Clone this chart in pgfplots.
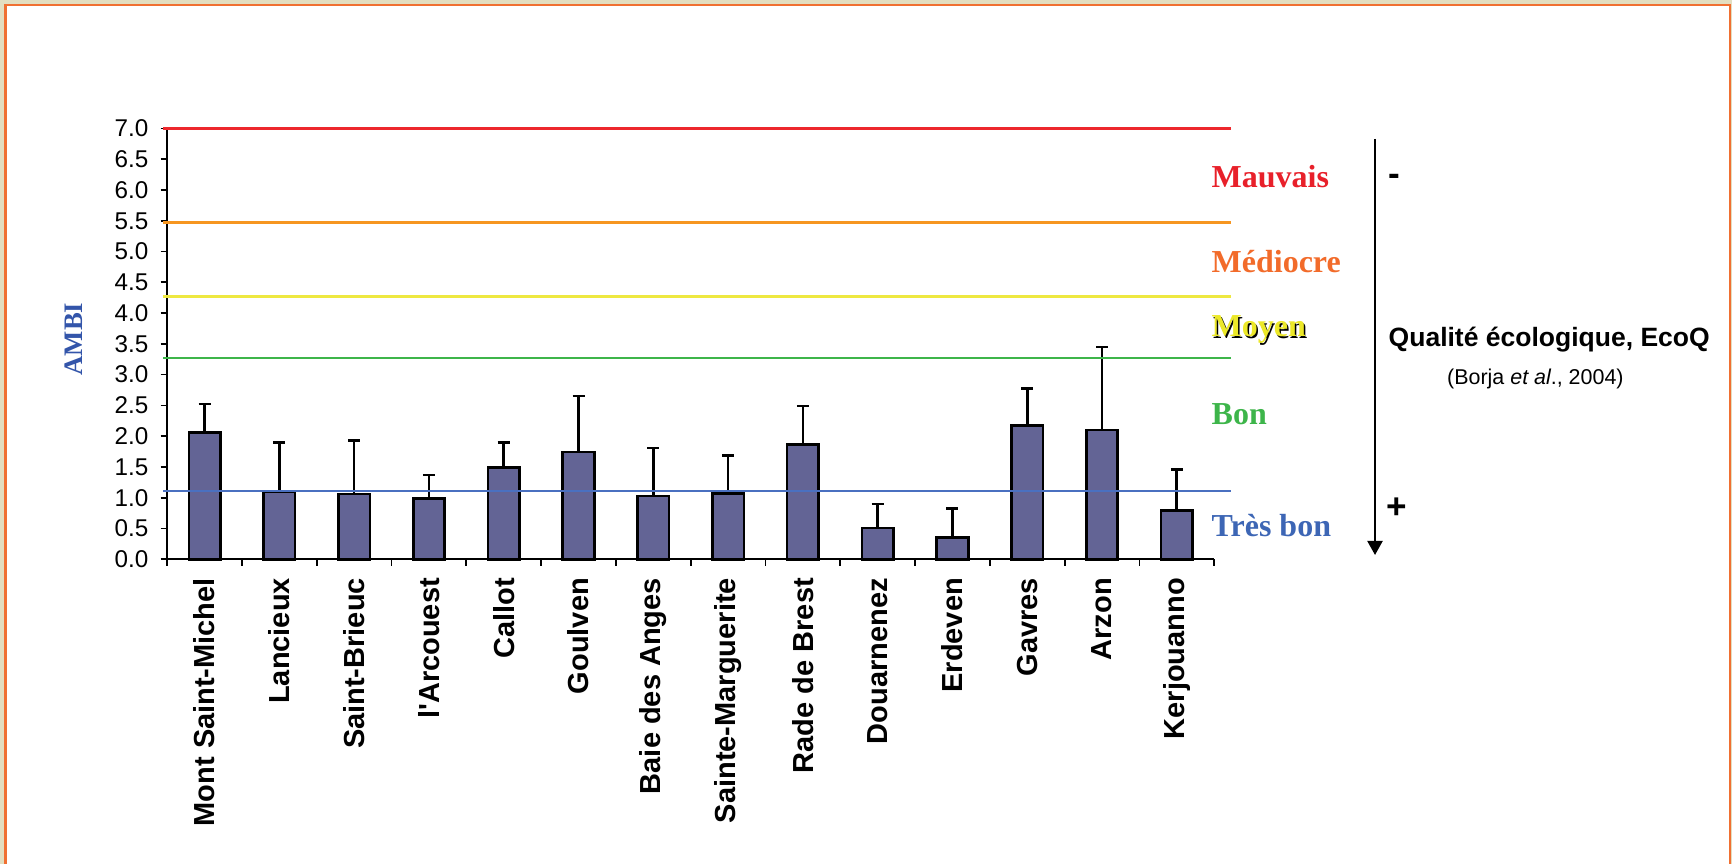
\documentclass[border=0pt]{standalone}
\usepackage{pgfplots}
\pgfplotsset{compat=1.18}
\usepackage{fontspec}
\setmainfont{Liberation Sans}
\newfontfamily\serifb{Liberation Serif}
\usetikzlibrary{arrows.meta}
\definecolor{beige}{RGB}{227,222,192}
\definecolor{frameorange}{RGB}{240,112,50}
\definecolor{barblue}{RGB}{99,100,149}
\definecolor{lred}{RGB}{237,40,45}
\definecolor{lorange}{RGB}{246,150,32}
\definecolor{lyellow}{RGB}{238,232,64}
\definecolor{lgreen}{RGB}{61,181,74}
\definecolor{lblue}{RGB}{74,112,192}
\definecolor{tred}{RGB}{232,32,42}
\definecolor{torange}{RGB}{242,107,42}
\definecolor{tyellow}{RGB}{236,232,40}
\definecolor{tgreen}{RGB}{61,181,74}
\definecolor{tblue}{RGB}{61,102,181}
\definecolor{ambiblue}{RGB}{51,85,170}
\pgfplotstableread{
x y err
0 2.06 0.46
1 1.09 0.81
2 1.06 0.87
3 0.99 0.38
4 1.49 0.41
5 1.74 0.91
6 1.03 0.78
7 1.07 0.62
8 1.86 0.63
9 0.51 0.39
10 0.35 0.47
11 2.17 0.60
12 2.10 1.35
13 0.79 0.67
}\ambidata
\begin{document}
\begin{tikzpicture}
\useasboundingbox (0,0) rectangle (17.32,-8.64);
\fill[beige] (0,0) rectangle (17.32,-8.64);
\fill[white] (0.05,-0.05) rectangle (17.30,-8.70);
\draw[frameorange, line width=0.7pt] (0.053,-8.70) -- (0.053,-0.05) -- (17.30,-0.05) -- (17.30,-8.70);
\begin{axis}[
  at={(1.672cm,-5.592cm)}, anchor=south west,
  scale only axis, width=10.47cm, height=4.307cm,
  xmin=-0.5, xmax=13.5, ymin=0, ymax=7,
  axis x line=bottom, axis y line=left,
  axis line style={line width=0.6pt, black, -},
  clip=false,
  tick align=outside,
  major tick length=0.065cm,
  tick style={line width=0.5pt, black},
  ytick={0,0.5,...,7},
  yticklabel style={font=\fontsize{6.9}{7}\selectfont, /pgf/number format/.cd, fixed, fixed zerofill, precision=1, assume math mode=true},
  xtick={-0.5,0.5,...,13.5},
  x tick label as interval=true,
  xticklabels={Mont Saint-Michel,Lancieux,Saint-Brieuc,l\textquotesingle Arcouest,Callot,Goulven,Baie des Anges,Sainte-Marguerite,Rade de Brest,Douarnenez,Erdeven,Gavres,Arzon,Kerjouanno},
  x tick label style={rotate=90, anchor=east, font=\bfseries\fontsize{8.25}{9}\selectfont},
]
\addplot[ybar, bar width=0.315cm, fill=barblue, draw=black, line width=0.75pt, mark size=0.06cm,
  error bars/.cd, y dir=plus, y explicit,
  error bar style={line width=0.75pt, black, solid},
  error mark options={black, line width=0.75pt, mark size=0.06cm, rotate=90}]
  table[x=x, y=y, y error=err] {\ambidata};
\draw[lred, line width=0.7pt] (axis cs:-0.55,7) -- (axis cs:13.73,7);
\draw[lorange, line width=0.7pt] (axis cs:-0.55,5.47) -- (axis cs:13.73,5.47);
\draw[lyellow, line width=0.7pt] (axis cs:-0.55,4.27) -- (axis cs:13.73,4.27);
\draw[lgreen, line width=0.7pt] (axis cs:-0.55,3.27) -- (axis cs:13.73,3.27);
\draw[lblue, line width=0.7pt] (axis cs:-0.55,1.11) -- (axis cs:13.73,1.11);
\end{axis}
\node[rotate=90, text=ambiblue, font=\serifb\bfseries\fontsize{7.6}{8}\selectfont] at (0.74,-3.39) {AMBI};
\begin{scope}[font=\serifb\bfseries\fontsize{9.1}{10}\selectfont]
\node[anchor=base west, inner sep=0, text=tred] at (12.11,-1.88) {Mauvais};
\node[anchor=base west, inner sep=0, text=torange] at (12.11,-2.727) {Médiocre};
\node[anchor=base west, inner sep=0, text=black] at (12.125,-3.382) {Moyen};
\node[anchor=base west, inner sep=0, text=tyellow] at (12.11,-3.367) {Moyen};
\node[anchor=base west, inner sep=0, text=tgreen] at (12.11,-4.25) {Bon};
\node[anchor=base west, inner sep=0, text=tblue] at (12.11,-5.367) {Très bon};
\end{scope}
\draw[line width=0.6pt, -{Triangle[length=0.14cm, width=0.15cm]}] (13.75,-1.39) -- (13.75,-5.55);
\node[font=\bfseries\fontsize{10}{11}\selectfont] at (13.94,-1.80) {-};
\node[font=\bfseries\fontsize{10}{11}\selectfont] at (13.97,-5.08) {+};
\node[anchor=base west, inner sep=0, font=\bfseries\fontsize{7.54}{8}\selectfont] at (13.88,-3.467) {Qualité écologique, EcoQ};
\node[anchor=base west, inner sep=0, font=\fontsize{6.1}{7}\selectfont] at (14.465,-3.85) {(Borja \textit{et al}., 2004)};
\end{tikzpicture}
\end{document}
